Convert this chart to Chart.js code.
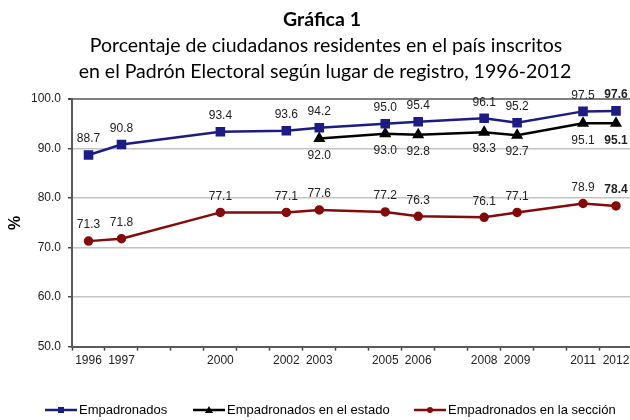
<!DOCTYPE html>
<html>
<head>
<meta charset="utf-8">
<script src="https://cdn.jsdelivr.net/npm/chart.js@4.4.0/dist/chart.umd.min.js"></script>
<style>
html, body { margin: 0; padding: 0; background: #fff; overflow: hidden; }
#wrap { width: 630px; height: 420px; overflow: hidden; }
</style>
</head>
<body>
<div id="wrap"><canvas id="chart" width="640" height="420"></canvas></div>
<script>
// data
const years = [1996, 1997, 1998, 1999, 2000, 2001, 2002, 2003, 2004, 2005, 2006, 2007, 2008, 2009, 2010, 2011, 2012];
const shownYears = [1996, 1997, 2000, 2002, 2003, 2005, 2006, 2008, 2009, 2011, 2012];
const empadronados = [88.7, 90.8, null, null, 93.4, null, 93.6, 94.2, null, 95.0, 95.4, null, 96.1, 95.2, null, 97.5, 97.6];
const empEstado = [null, null, null, null, null, null, null, 92.0, null, 93.0, 92.8, null, 93.3, 92.7, null, 95.1, 95.1];
const empSeccion = [71.3, 71.8, null, null, 77.1, null, 77.1, 77.6, null, 77.2, 76.3, null, 76.1, 77.1, null, 78.9, 78.4];
const yTicks = [50, 60, 70, 80, 90, 100];

const titleLines = ['Gráfica 1', 'Porcentaje de ciudadanos residentes en el país inscritos', 'en el Padrón Electoral según lugar de registro, 1996-2012'];

const LABEL_FONT = '12px "Liberation Sans", Arial, sans-serif';
const LABEL_FONT_BOLD = 'bold 12px "Liberation Sans", Arial, sans-serif';

// titles at top
const titlePlugin = {
    id: 'titles',
    afterDraw(chart) {
        const ctx = chart.ctx;
        ctx.save();
        ctx.fillStyle = '#000';
        ctx.textAlign = 'center';
        ctx.textBaseline = 'middle';
        ctx.font = 'bold 19.5px Lato, sans-serif';
        ctx.fillText(titleLines[0], 322, 20);
        ctx.font = '19.5px Lato, sans-serif';
        ctx.fillText(titleLines[1], 326, 46);
        ctx.fillText(titleLines[2], 325, 72);
        ctx.restore();
    }
};

// value labels next to the points
const valueLabels = {
    id: 'valueLabels',
    afterDatasetsDraw(chart) {
        const ctx = chart.ctx;
        ctx.save();
        ctx.fillStyle = '#222';
        ctx.textAlign = 'center';
        ctx.textBaseline = 'middle';
        chart.data.datasets.forEach((ds, di) => {
            const meta = chart.getDatasetMeta(di);
            const lastIdx = ds.data.length - 1;
            ds.data.forEach((v, i) => {
                if (v === null) return;
                const pt = meta.data[i];
                ctx.font = i === lastIdx ? LABEL_FONT_BOLD : LABEL_FONT;
                const dy = ds.labelPos === 'below' ? 17 : -16;
                ctx.fillText(v.toFixed(1), pt.x, pt.y + dy);
            });
        });
        ctx.restore();
    }
};

// legend: line with marker, then text
const legendPlugin = {
    id: 'lineLegend',
    afterDraw(chart) {
        const ctx = chart.ctx;
        const starts = [45, 193, 414];
        const y = 410;
        ctx.save();
        chart.data.datasets.forEach((ds, i) => {
            const x0 = starts[i];
            ctx.strokeStyle = ds.borderColor;
            ctx.lineWidth = 2.5;
            ctx.beginPath();
            ctx.moveTo(x0, y);
            ctx.lineTo(x0 + 32, y);
            ctx.stroke();
            const cx = x0 + 16;
            ctx.fillStyle = ds.borderColor;
            ctx.beginPath();
            if (ds.pointStyle === 'rect') {
                ctx.rect(cx - 3, y - 3, 6, 6);
            } else if (ds.pointStyle === 'triangle') {
                ctx.moveTo(cx, y - 4);
                ctx.lineTo(cx + 4, y + 3);
                ctx.lineTo(cx - 4, y + 3);
                ctx.closePath();
            } else {
                ctx.arc(cx, y, 3, 0, Math.PI * 2);
            }
            ctx.fill();
            ctx.fillStyle = '#000';
            ctx.font = '13px "Liberation Sans", Arial, sans-serif';
            ctx.textAlign = 'left';
            ctx.textBaseline = 'middle';
            ctx.fillText(ds.label, x0 + 34, y);
        });
        ctx.restore();
    }
};

const ctx = document.getElementById('chart').getContext('2d');
const chart = new Chart(ctx, {
    type: 'line',
    data: {
        labels: years,
        datasets: [{
            label: 'Empadronados',
            data: empadronados,
            borderColor: '#1c1c84',
            backgroundColor: '#1c1c84',
            borderWidth: 2.5,
            pointStyle: 'rect',
            pointRadius: 5,
            spanGaps: true,
            labelPos: 'above'
        }, {
            label: 'Empadronados en el estado',
            data: empEstado,
            borderColor: '#000000',
            backgroundColor: '#000000',
            borderWidth: 2.5,
            pointStyle: 'triangle',
            pointRadius: 4.5,
            spanGaps: true,
            labelPos: 'below'
        }, {
            label: 'Empadronados en la sección',
            data: empSeccion,
            borderColor: '#850a0a',
            backgroundColor: '#850a0a',
            borderWidth: 2.5,
            pointStyle: 'circle',
            pointRadius: 3.5,
            spanGaps: true,
            labelPos: 'above'
        }]
    },
    options: {
        responsive: false,
        animation: false,
        layout: { padding: { left: 0, right: 0, top: 99, bottom: 49 } },
        plugins: {
            legend: { display: false },
            tooltip: { enabled: false }
        },
        scales: {
            x: {
                offset: true,
                grid: { offset: true, drawOnChartArea: false, tickLength: 4, tickColor: '#444', tickWidth: 1.5 },
                border: { color: '#5a5a5a', width: 2 },
                ticks: {
                    autoSkip: false,
                    maxRotation: 0,
                    padding: 3,
                    color: '#222',
                    font: { family: '"Liberation Sans", Arial, sans-serif', size: 12 },
                    callback: function (v, i) {
                        const yr = years[i];
                        return shownYears.includes(yr) ? String(yr) : '';
                    }
                }
            },
            y: {
                min: yTicks[0],
                max: yTicks[yTicks.length - 1],
                afterBuildTicks: axis => { axis.ticks = yTicks.map(v => ({ value: v })); },
                grid: {
                    color: c => (c.tick && c.tick.value === 100) ? '#808080' : '#c4c4c4',
                    lineWidth: c => (c.tick && c.tick.value === 100) ? 2 : 1.5,
                    tickLength: 4,
                    tickColor: '#444'
                },
                border: { color: '#5a5a5a', width: 2 },
                ticks: {
                    padding: 7,
                    color: '#222',
                    font: { family: '"Liberation Sans", Arial, sans-serif', size: 12 },
                    callback: v => v.toFixed(1)
                },
                title: {
                    display: true,
                    text: '%',
                    color: '#000',
                    font: { family: '"Liberation Sans", Arial, sans-serif', size: 16, weight: 'bold', lineHeight: 1 },
                    padding: { top: 8, bottom: 0 }
                }
            }
        }
    },
    plugins: [titlePlugin, valueLabels, legendPlugin]
});
</script>
</body>
</html>
